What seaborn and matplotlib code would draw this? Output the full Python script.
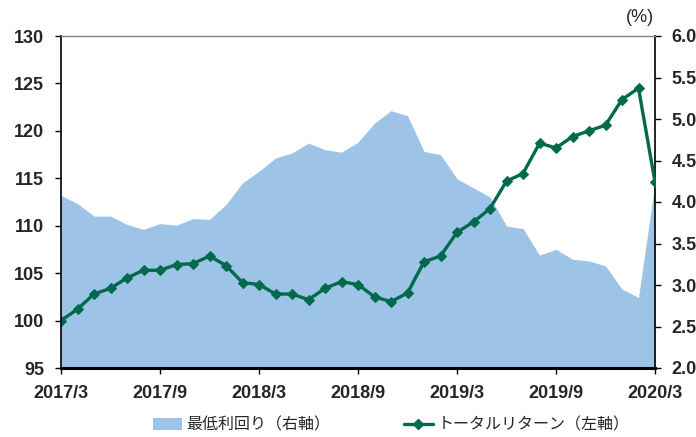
import numpy as np
import pandas as pd
import seaborn as sns
import matplotlib.pyplot as plt
from matplotlib.patches import Patch
from matplotlib.lines import Line2D

sns.set_style("white")
plt.rcParams['font.family'] = ['Liberation Sans', 'Noto Sans CJK JP', 'DejaVu Sans']

# monthly data, 2017/3 - 2020/3
months = pd.date_range("2017-03-01", "2020-03-01", freq="MS")
tick_labels = ["2017/3", "2017/9", "2018/3", "2018/9", "2019/3", "2019/9", "2020/3"]

total_return = [100.0, 101.2, 102.8, 103.4, 104.5, 105.3, 105.3, 105.9, 106.0, 106.8,
                105.8, 104.0, 103.8, 102.8, 102.8, 102.2, 103.4, 104.1, 103.8, 102.5,
                102.0, 102.9, 106.2, 106.8, 109.3, 110.4, 111.8, 114.7, 115.5, 118.7,
                118.2, 119.4, 120.0, 120.6, 123.3, 124.5, 114.6]
min_yield = [4.08, 3.98, 3.83, 3.83, 3.73, 3.67, 3.74, 3.72, 3.80, 3.79,
             3.97, 4.23, 4.37, 4.53, 4.59, 4.71, 4.63, 4.60, 4.72, 4.95,
             5.10, 5.04, 4.61, 4.57, 4.28, 4.17, 4.06, 3.71, 3.68, 3.36,
             3.43, 3.31, 3.29, 3.23, 2.95, 2.85, 4.23]

df = pd.DataFrame({"i": np.arange(len(months)), "tr": total_return, "yld": min_yield})

area_color = "#9DC3E6"
line_color = "#006A4E"

fig = plt.figure(figsize=(6.96, 4.37), dpi=100)
ax = fig.add_axes([61/696, 69/437, 594/696, 332/437])
ax2 = ax.twinx()

# area on right axis (behind)
ax2.fill_between(df["i"], 2.0, df["yld"], color=area_color, lw=0)
ax2.set_ylim(2.0, 6.0)
ax2.set_yticks(np.arange(2.0, 6.01, 0.5))
ax2.set_yticklabels([f"{v:.1f}" for v in np.arange(2.0, 6.01, 0.5)])

# line on left axis (front)
ax.set_zorder(ax2.get_zorder() + 1)
ax.patch.set_visible(False)
sns.lineplot(data=df, x="i", y="tr", ax=ax, color=line_color, lw=2.4,
             marker="D", markersize=5.5, markeredgecolor=line_color)
ax.set_ylim(95, 130)
ax.set_yticks(range(95, 131, 5))
ax.set_xlim(0, len(months) - 1)
pos = [i for i, m in enumerate(months) if m.month in (3, 9)]
ax.set_xticks(pos)
ax.set_xticklabels(tick_labels)
ax.set_xlabel("")
ax.set_ylabel("")

for a in (ax, ax2):
    a.tick_params(labelsize=13, length=4, width=1, color="black")
    for lab in a.get_xticklabels() + a.get_yticklabels():
        lab.set_fontweight("bold")
    for s in a.spines.values():
        s.set_visible(False)
ax.tick_params(axis="y", left=True, direction="out", pad=8)
ax.tick_params(axis="x", bottom=True, direction="out", pad=8)
ax2.tick_params(axis="y", right=True, direction="out", pad=8)

ax.spines["left"].set_visible(True)
ax.spines["left"].set_color("black")
ax.spines["left"].set_linewidth(1.2)
ax.spines["bottom"].set_visible(True)
ax.spines["bottom"].set_color("black")
ax.spines["bottom"].set_linewidth(2.2)
ax.spines["top"].set_visible(True)
ax.spines["top"].set_color("#808080")
ax.spines["top"].set_linewidth(1.0)
ax2.spines["right"].set_visible(True)
ax2.spines["right"].set_color("black")
ax2.spines["right"].set_linewidth(1.2)

fig.text(640/696, 1 - 17/437, "(%)", ha="center", va="center", fontsize=13)

handles = [Patch(facecolor=area_color, edgecolor="none"),
           Line2D([], [], color=line_color, lw=2.4, marker="D", markersize=5)]
labels = ["最低利回り（右軸）", "トータルリターン（左軸）"]
fig.legend(handles, labels, loc="center", bbox_to_anchor=(0.562, 1 - 425/437), ncol=2,
           frameon=False, columnspacing=4.6, handlelength=1.8,
           handletextpad=0.3, prop={"family": ["Noto Sans CJK JP"], "size": 11.5})

fig.savefig("out.png", dpi=100)
